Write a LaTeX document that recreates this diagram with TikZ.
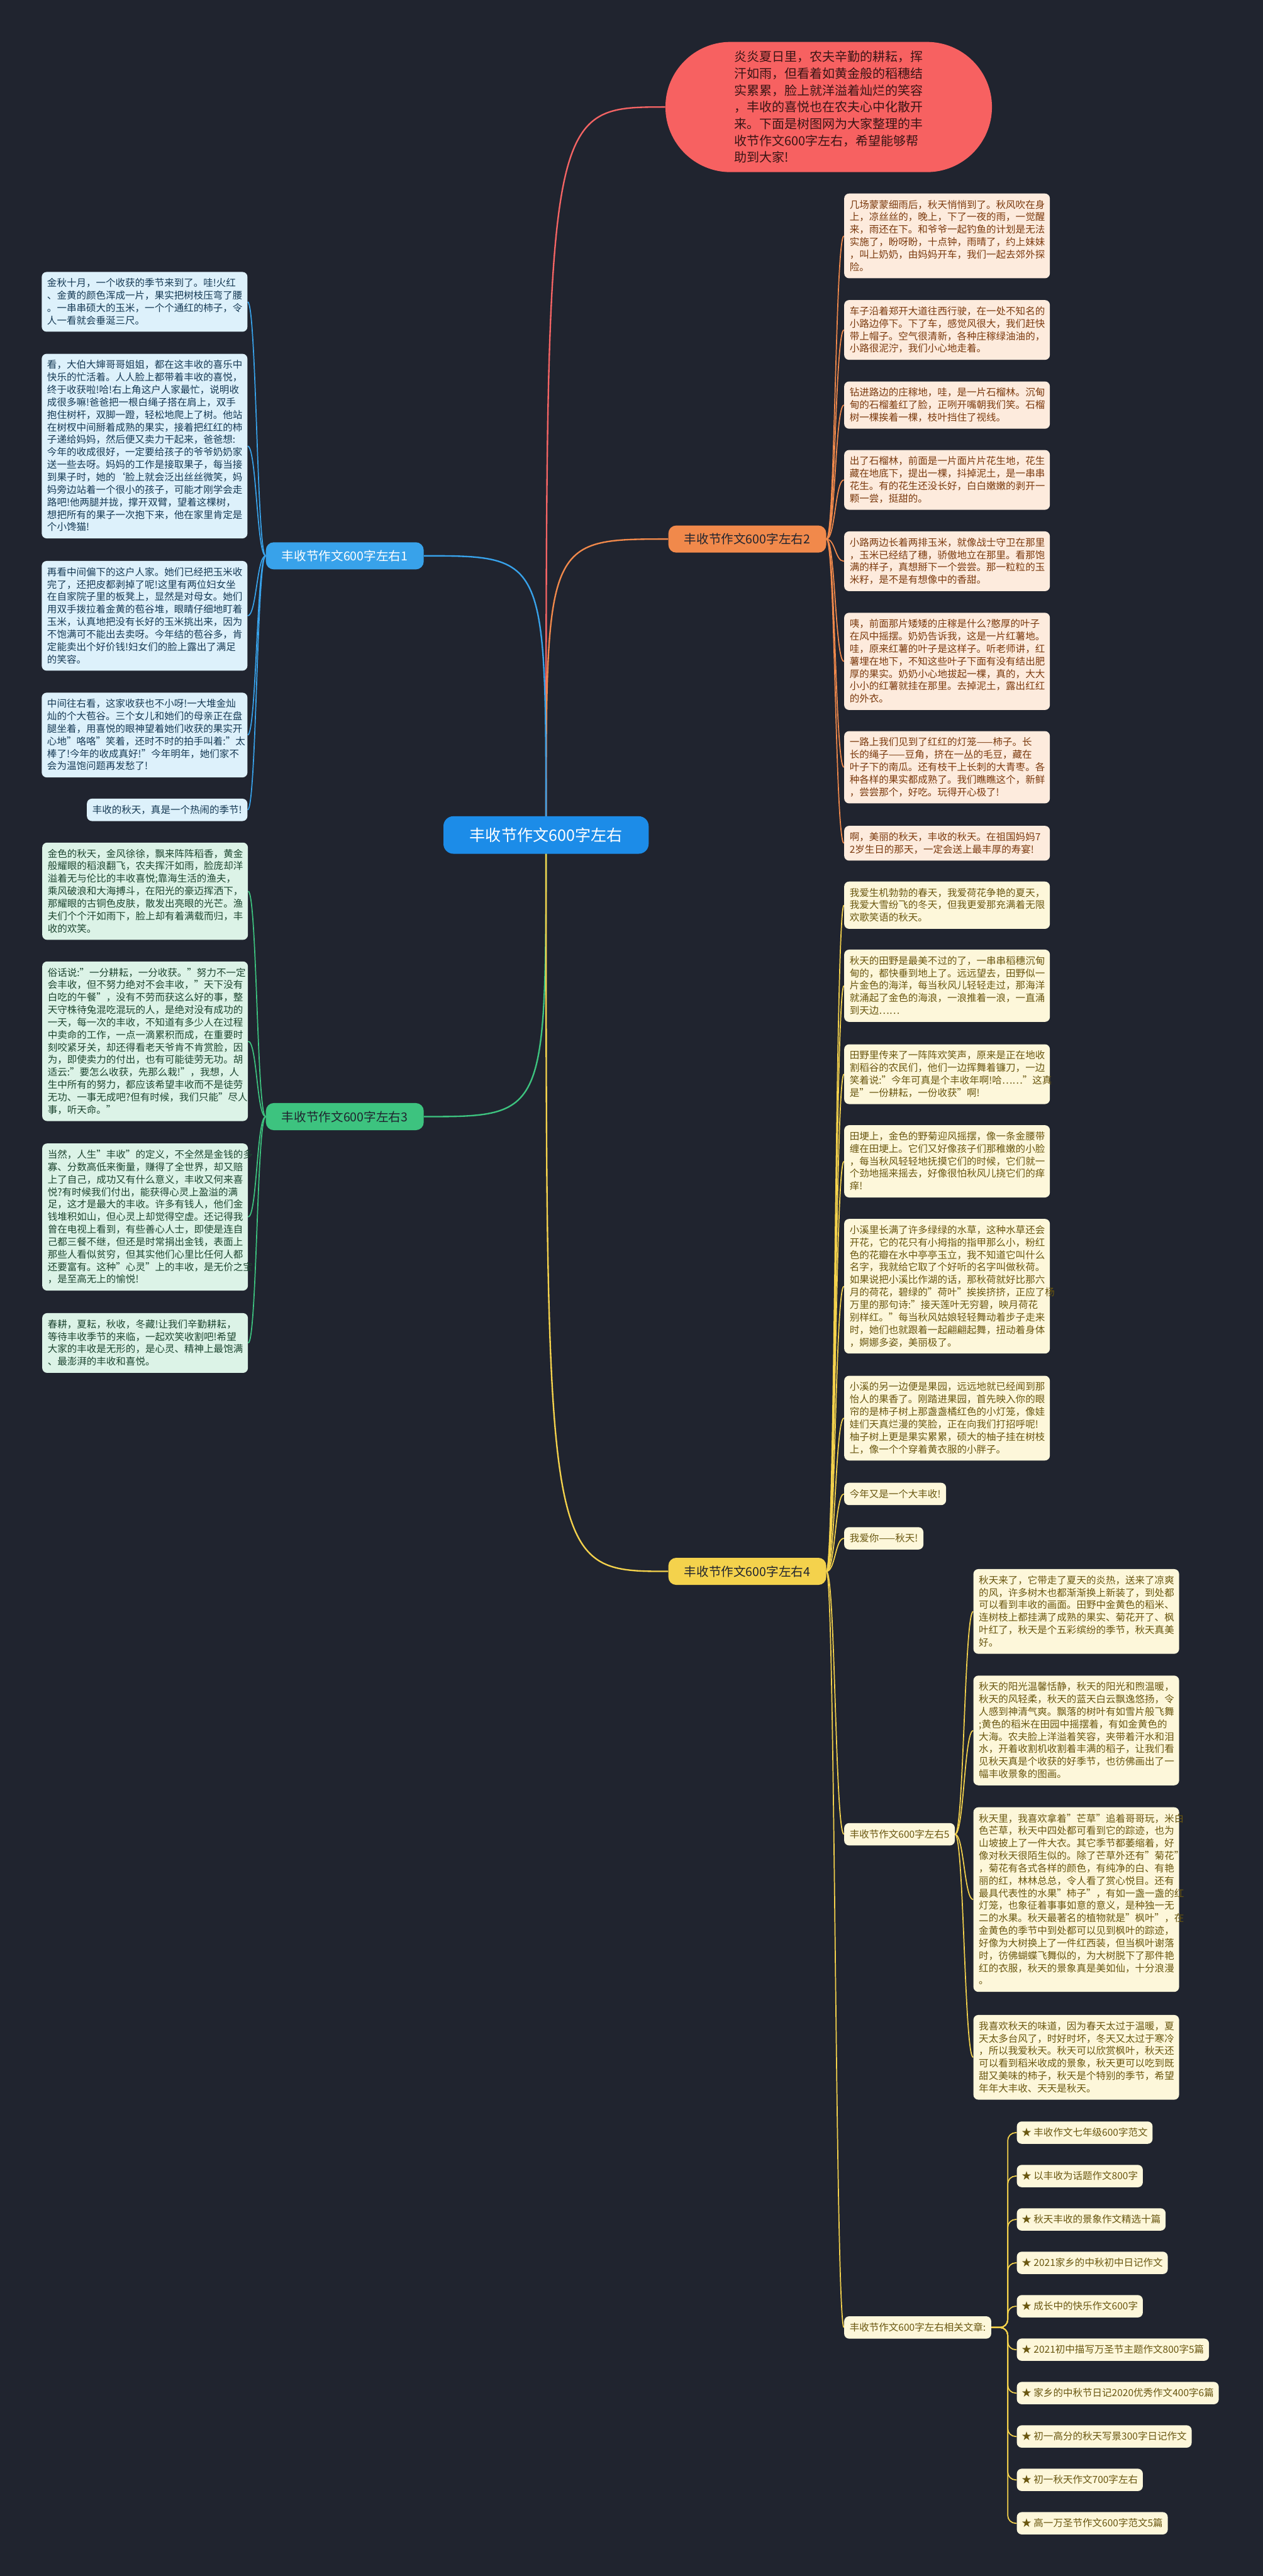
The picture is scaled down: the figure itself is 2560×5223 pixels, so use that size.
\documentclass[tikz,border=0pt]{standalone}
\usepackage{fontspec}
\setmainfont{Noto Sans CJK SC}
\setlength\parindent{0pt}
\pgfdeclarelayer{bglayer}
\pgfdeclarelayer{edges}
\pgfsetlayers{bglayer,edges,main}
\definecolor{bgc}{HTML}{20242F}
\definecolor{lineB}{HTML}{38A2EA}
\definecolor{lineO}{HTML}{F1894B}
\definecolor{lineG}{HTML}{3DC37F}
\definecolor{lineY}{HTML}{F4D24C}
\definecolor{lineR}{HTML}{F46464}
\definecolor{fillB}{HTML}{DDF1FB}
\definecolor{fillO}{HTML}{FDEBDD}
\definecolor{fillG}{HTML}{DCF3E7}
\definecolor{fillY}{HTML}{FDF7DA}
\definecolor{textB}{HTML}{163A55}
\definecolor{textO}{HTML}{7B3A0E}
\definecolor{textG}{HTML}{1C4530}
\definecolor{textY}{HTML}{6A5710}
\definecolor{rootc}{HTML}{1C8CE8}
\definecolor{bubblec}{HTML}{F76161}
\definecolor{bubbletext}{HTML}{3A1515}
\newcommand\mystrut{\rule[-0.22\baselineskip]{0pt}{\baselineskip}}
\newcommand\leaffont{\fontsize{9.9pt}{12.65pt}\selectfont}
\tikzset{
  leafbase/.style={rounded corners=5pt, inner xsep=5.5pt, inner ysep=5pt, align=left,
    font=\leaffont, execute at begin node=\mystrut, execute at end node=\mystrut},
  leafwide/.style={leafbase, text width=197.5pt},
  leafB/.style={leafwide, fill=fillB, text=textB, anchor=north east},
  leafBs/.style={leafbase, fill=fillB, text=textB, anchor=north east},
  leafO/.style={leafwide, fill=fillO, text=textO, anchor=north west},
  leafG/.style={leafwide, fill=fillG, text=textG, anchor=north east},
  leafY/.style={leafwide, fill=fillY, text=textY, anchor=north west},
  leafYs/.style={leafbase, fill=fillY, text=textY, anchor=north west},
  relitem/.style={leafbase, inner xsep=5pt, fill=fillY, text=textY, anchor=north west},
  branchbase/.style={rounded corners=8pt, minimum width=160pt, minimum height=27.5pt,
    inner sep=2pt, font=\fontsize{12.5pt}{15pt}\selectfont},
  branchB/.style={branchbase, fill=lineB, text=white},
  branchO/.style={branchbase, fill=lineO, text=bgc},
  branchG/.style={branchbase, fill=lineG, text=bgc},
  branchY/.style={branchbase, fill=lineY, text=bgc},
  rootnode/.style={rounded corners=10pt, fill=rootc, text=white, minimum width=208pt,
    minimum height=38pt, font=\fontsize{16pt}{19pt}\selectfont},
  bubble/.style={rounded corners=66pt, fill=bubblec, text=bubbletext, minimum width=331pt,
    minimum height=132pt, text width=191.5pt, align=left, inner sep=0pt,
    font=\fontsize{12.75pt}{17pt}\selectfont},
  mainline/.style={line width=1.5pt},
  leafline/.style={line width=1.1pt},
}
\begin{document}
\begin{tikzpicture}[x=0.5pt,y=-0.5pt]
\useasboundingbox (0,0) rectangle (2560,5223);
\begin{pgfonlayer}{bglayer}
\fill[bgc] (0,0) rectangle (2560,5223);
\end{pgfonlayer}

% root and main branches
\node[rootnode] (root) at (1107,1693) {丰收节作文600字左右};
\node[bubble] (intro) at (1680,217) {炎炎夏日里，农夫辛勤的耕耘，挥\\汗如雨，但看着如黄金般的稻穗结\\实累累，脸上就洋溢着灿烂的笑容\\，丰收的喜悦也在农夫心中化散开\\来。下面是树图网为大家整理的丰\\收节作文600字左右，希望能够帮\\助到大家!};
\node[branchB] (b1) at (699,1127) {丰收节作文600字左右1};
\node[branchO] (b2) at (1515,1093) {丰收节作文600字左右2};
\node[branchG] (b3) at (699,2264) {丰收节作文600字左右3};
\node[branchY] (b4) at (1515,3186) {丰收节作文600字左右4};

% branch 1 (blue, left)
\node[leafB] (a1) at (502,551) {金秋十月，一个收获的季节来到了。哇!火红\\、金黄的颜色浑成一片，果实把树枝压弯了腰\\。一串串硕大的玉米，一个个通红的柿子，令\\人一看就会垂涎三尺。};
\node[leafB] (a2) at (502,717) {看，大伯大婶哥哥姐姐，都在这丰收的喜乐中\\快乐的忙活着。人人脸上都带着丰收的喜悦，\\终于收获啦!哈!右上角这户人家最忙，说明收\\成很多嘛!爸爸把一根白绳子搭在肩上，双手\\抱住树杆，双脚一蹬，轻松地爬上了树。他站\\在树杈中间掰着成熟的果实，接着把红红的柿\\子递给妈妈，然后便又卖力干起来，爸爸想:\\今年的收成很好，一定要给孩子的爷爷奶奶家\\送一些去呀。妈妈的工作是接取果子，每当接\\到果子时，她的{\char"60}脸上就会泛出丝丝微笑，妈\\妈旁边站着一个很小的孩子，可能才刚学会走\\路吧!他两腿并拢，撑开双臂，望着这棵树，\\想把所有的果子一次抱下来，他在家里肯定是\\个小馋猫!};
\node[leafB] (a3) at (502,1137) {再看中间偏下的这户人家。她们已经把玉米收\\完了，还把皮都剥掉了呢!这里有两位妇女坐\\在自家院子里的板凳上，显然是对母女。她们\\用双手拨拉着金黄的苞谷堆，眼睛仔细地盯着\\玉米，认真地把没有长好的玉米挑出来，因为\\不饱满可不能出去卖呀。今年结的苞谷多，肯\\定能卖出个好价钱!妇女们的脸上露出了满足\\的笑容。};
\node[leafB] (a4) at (502,1404) {中间往右看，这家收获也不小呀!一大堆金灿\\灿的个大苞谷。三个女儿和她们的母亲正在盘\\腿坐着，用喜悦的眼神望着她们收获的果实开\\心地"咯咯"笑着，还时不时的拍手叫着:"太\\棒了!今年的收成真好!"今年明年，她们家不\\会为温饱问题再发愁了!};
\node[leafBs] (a5) at (502,1619) {丰收的秋天，真是一个热闹的季节!};

% branch 2 (orange, right)
\node[leafO] (o1) at (1711,392) {几场蒙蒙细雨后，秋天悄悄到了。秋风吹在身\\上，凉丝丝的，晚上，下了一夜的雨，一觉醒\\来，雨还在下。和爷爷一起钓鱼的计划是无法\\实施了，盼呀盼，十点钟，雨晴了，约上妹妹\\，叫上奶奶，由妈妈开车，我们一起去郊外探\\险。};
\node[leafO] (o2) at (1711,608) {车子沿着郑开大道往西行驶，在一处不知名的\\小路边停下。下了车，感觉风很大，我们赶快\\带上帽子。空气很清新，各种庄稼绿油油的，\\小路很泥泞，我们小心地走着。};
\node[leafO] (o3) at (1711,773) {钻进路边的庄稼地，哇，是一片石榴林。沉甸\\甸的石榴羞红了脸，正咧开嘴朝我们笑。石榴\\树一棵挨着一棵，枝叶挡住了视线。};
\node[leafO] (o4) at (1711,912) {出了石榴林，前面是一片面片片花生地，花生\\藏在地底下，提出一棵，抖掉泥土，是一串串\\花生。有的花生还没长好，白白嫩嫩的剥开一\\颗一尝，挺甜的。};
\node[leafO] (o5) at (1711,1077) {小路两边长着两排玉米，就像战士守卫在那里\\，玉米已经结了穗，骄傲地立在那里。看那饱\\满的样子，真想掰下一个尝尝。那一粒粒的玉\\米籽，是不是有想像中的香甜。};
\node[leafO] (o6) at (1711,1242) {咦，前面那片矮矮的庄稼是什么?憨厚的叶子\\在风中摇摆。奶奶告诉我，这是一片红薯地。\\哇，原来红薯的叶子是这样子。听老师讲，红\\薯埋在地下，不知这些叶子下面有没有结出肥\\厚的果实。奶奶小心地拔起一棵，真的，大大\\小小的红薯就挂在那里。去掉泥土，露出红红\\的外衣。};
\node[leafO] (o7) at (1711,1482) {一路上我们见到了红红的灯笼——柿子。长\\长的绳子——豆角，挤在一丛的毛豆，藏在\\叶子下的南瓜。还有枝干上长刺的大青枣。各\\种各样的果实都成熟了。我们瞧瞧这个，新鲜\\，尝尝那个，好吃。玩得开心极了!};
\node[leafO] (o8) at (1711,1674) {啊，美丽的秋天，丰收的秋天。在祖国妈妈7\\2岁生日的那天，一定会送上最丰厚的寿宴!};

% branch 3 (green, left)
\node[leafG] (g1) at (503,1708) {金色的秋天，金风徐徐，飘来阵阵稻香，黄金\\般耀眼的稻浪翻飞，农夫挥汗如雨，脸庞却洋\\溢着无与伦比的丰收喜悦;靠海生活的渔夫，\\乘风破浪和大海搏斗，在阳光的豪迈挥洒下，\\那耀眼的古铜色皮肤，散发出亮眼的光芒。渔\\夫们个个汗如雨下，脸上却有着满载而归，丰\\收的欢笑。};
\node[leafG] (g2) at (503,1949) {俗话说:"一分耕耘，一分收获。"努力不一定\\会丰收，但不努力绝对不会丰收，"天下没有\\白吃的午餐"，没有不劳而获这么好的事，整\\天守株待兔混吃混玩的人，是绝对没有成功的\\一天，每一次的丰收，不知道有多少人在过程\\中卖命的工作，一点一滴累积而成，在重要时\\刻咬紧牙关，却还得看老天爷肯不肯赏脸，因\\为，即使卖力的付出，也有可能徒劳无功。胡\\适云:"要怎么收获，先那么栽!"，我想，人\\生中所有的努力，都应该希望丰收而不是徒劳\\无功、一事无成吧?但有时候，我们只能"尽人\\事，听天命。"};
\node[leafG] (g3) at (503,2318) {当然，人生"丰收"的定义，不全然是金钱的多\\寡、分数高低来衡量，赚得了全世界，却又赔\\上了自己，成功又有什么意义，丰收又何来喜\\悦?有时候我们付出，能获得心灵上盈溢的满\\足，这才是最大的丰收。许多有钱人，他们金\\钱堆积如山，但心灵上却觉得空虚。还记得我\\曾在电视上看到，有些善心人士，即使是连自\\己都三餐不继，但还是时常捐出金钱，表面上\\那些人看似贫穷，但其实他们心里比任何人都\\还要富有。这种"心灵"上的丰收，是无价之宝\\，是至高无上的愉悦!};
\node[leafG] (g4) at (503,2662) {春耕，夏耘，秋收，冬藏!让我们辛勤耕耘，\\等待丰收季节的来临，一起欢笑收割吧!希望\\大家的丰收是无形的，是心灵、精神上最饱满\\、最澎湃的丰收和喜悦。};

% branch 4 (yellow, right)
\node[leafY] (y1) at (1711,1787) {我爱生机勃勃的春天，我爱荷花争艳的夏天，\\我爱大雪纷飞的冬天，但我更爱那充满着无限\\欢歌笑语的秋天。};
\node[leafY] (y2) at (1711,1925) {秋天的田野是最美不过的了，一串串稻穗沉甸\\甸的，都快垂到地上了。远远望去，田野似一\\片金色的海洋，每当秋风儿轻轻走过，那海洋\\就涌起了金色的海浪，一浪推着一浪，一直涌\\到天边……};
\node[leafY] (y3) at (1711,2117) {田野里传来了一阵阵欢笑声，原来是正在地收\\割稻谷的农民们，他们一边挥舞着镰刀，一边\\笑着说:"今年可真是个丰收年啊!哈……"这真\\是"一份耕耘，一份收获"啊!};
\node[leafY] (y4) at (1711,2281) {田埂上，金色的野菊迎风摇摆，像一条金腰带\\缠在田埂上。它们又好像孩子们那稚嫩的小脸\\，每当秋风轻轻地抚摸它们的时候，它们就一\\个劲地摇来摇去，好像很怕秋风儿挠它们的痒\\痒!};
\node[leafY] (y5) at (1711,2471) {小溪里长满了许多绿绿的水草，这种水草还会\\开花，它的花只有小拇指的指甲那么小，粉红\\色的花瓣在水中亭亭玉立，我不知道它叫什么\\名字，我就给它取了个好听的名字叫做秋荷。\\如果说把小溪比作湖的话，那秋荷就好比那六\\月的荷花，碧绿的"荷叶"挨挨挤挤，正应了杨\\万里的那句诗:"接天莲叶无穷碧，映月荷花\\别样红。"每当秋风姑娘轻轻舞动着步子走来\\时，她们也就跟着一起翩翩起舞，扭动着身体\\，婀娜多姿，美丽极了。};
\node[leafY] (y6) at (1711,2789) {小溪的另一边便是果园，远远地就已经闻到那\\怡人的果香了。刚踏进果园，首先映入你的眼\\帘的是柿子树上那盏盏橘红色的小灯笼，像娃\\娃们天真烂漫的笑脸，正在向我们打招呼呢!\\柚子树上更是果实累累，硕大的柚子挂在树枝\\上，像一个个穿着黄衣服的小胖子。};
\node[leafYs] (y7) at (1711,3006) {今年又是一个大丰收!};
\node[leafYs] (y8) at (1711,3096) {我爱你——秋天!};
\node[leafYs] (b5) at (1711,3696) {丰收节作文600字左右5};
\node[leafYs] (rel) at (1711,4696) {丰收节作文600字左右相关文章:};

% branch 5 leaves
\node[leafY] (p1) at (1973,3181) {秋天来了，它带走了夏天的炎热，送来了凉爽\\的风，许多树木也都渐渐换上新装了，到处都\\可以看到丰收的画面。田野中金黄色的稻米、\\连树枝上都挂满了成熟的果实、菊花开了、枫\\叶红了，秋天是个五彩缤纷的季节，秋天真美\\好。};
\node[leafY] (p2) at (1973,3397) {秋天的阳光温馨恬静，秋天的阳光和煦温暖，\\秋天的风轻柔，秋天的蓝天白云飘逸悠扬，令\\人感到神清气爽。飘落的树叶有如雪片般飞舞\\;黄色的稻米在田园中摇摆着，有如金黄色的\\大海。农夫脸上洋溢着笑容，夹带着汗水和泪\\水，开着收割机收割着丰满的稻子，让我们看\\见秋天真是个收获的好季节，也彷佛画出了一\\幅丰收景象的图画。};
\node[leafY] (p3) at (1973,3664) {秋天里，我喜欢拿着"芒草"追着哥哥玩，米白\\色芒草，秋天中四处都可看到它的踪迹，也为\\山坡披上了一件大衣。其它季节都萎缩着，好\\像对秋天很陌生似的。除了芒草外还有"菊花"\\，菊花有各式各样的颜色，有纯净的白、有艳\\丽的红，林林总总，令人看了赏心悦目。还有\\最具代表性的水果"柿子"，有如一盏一盏的红\\灯笼，也象征着事事如意的意义，是种独一无\\二的水果。秋天最著名的植物就是"枫叶"，在\\金黄色的季节中到处都可以见到枫叶的踪迹，\\好像为大树换上了一件红西装，但当枫叶谢落\\时，彷佛蝴蝶飞舞似的，为大树脱下了那件艳\\红的衣服，秋天的景象真是美如仙，十分浪漫\\。};
\node[leafY] (p4) at (1973,4085) {我喜欢秋天的味道，因为春天太过于温暖，夏\\天太多台风了，时好时坏，冬天又太过于寒冷\\，所以我爱秋天。秋天可以欣赏枫叶，秋天还\\可以看到稻米收成的景象，秋天更可以吃到既\\甜又美味的柿子，秋天是个特别的季节，希望\\年年大丰收、天天是秋天。};

% related articles
\node[relitem] (r1) at (2061,4301) {★ 丰收作文七年级600字范文};
\node[relitem] (r2) at (2061,4389) {★ 以丰收为话题作文800字};
\node[relitem] (r3) at (2061,4477) {★ 秋天丰收的景象作文精选十篇};
\node[relitem] (r4) at (2061,4565) {★ 2021家乡的中秋初中日记作文};
\node[relitem] (r5) at (2061,4653) {★ 成长中的快乐作文600字};
\node[relitem] (r6) at (2061,4741) {★ 2021初中描写万圣节主题作文800字5篇};
\node[relitem] (r7) at (2061,4829) {★ 家乡的中秋节日记2020优秀作文400字6篇};
\node[relitem] (r8) at (2061,4917) {★ 初一高分的秋天写景300字日记作文};
\node[relitem] (r9) at (2061,5005) {★ 初一秋天作文700字左右};
\node[relitem] (r10) at (2061,5093) {★ 高一万圣节作文600字范文5篇};

\begin{pgfonlayer}{edges}
% main connectors
\draw[mainline, lineR] (root.center) .. controls (1107,217) .. (intro.west);
\draw[mainline, lineO] (root.center) .. controls (1107,1093) .. (b2.west);
\draw[mainline, lineB] (root.center) .. controls (1107,1127) .. (b1.east);
\draw[mainline, lineG] (root.center) .. controls (1107,2264) .. (b3.east);
\draw[mainline, lineY] (root.center) .. controls (1107,3186) .. (b4.west);
% leaf connectors
\foreach \n in {a1,a2,a3,a4,a5}
  \draw[leafline, lineB] (b1.west) .. controls +(-18,0) and +(18,0) .. (\n.east);
\foreach \n in {o1,o2,o3,o4,o5,o6,o7,o8}
  \draw[leafline, lineO] (b2.east) .. controls +(18,0) and +(-18,0) .. (\n.west);
\foreach \n in {g1,g2,g3,g4}
  \draw[leafline, lineG] (b3.west) .. controls +(-18,0) and +(18,0) .. (\n.east);
\foreach \n in {y1,y2,y3,y4,y5,y6,y7,y8,b5,rel}
  \draw[leafline, lineY] (b4.east) .. controls +(18,0) and +(-18,0) .. (\n.west);
\foreach \n in {p1,p2,p3,p4}
  \draw[leafline, lineY] (b5.east) .. controls +(18,0) and +(-18,0) .. (\n.west);
\foreach \n in {r1,r2,r3,r4,r5,r6,r7,r8,r9,r10}
  \draw[leafline, lineY, rounded corners=8pt] (rel.east) -- (2043,4719) |- (\n.west);
\end{pgfonlayer}
\end{tikzpicture}
\end{document}
